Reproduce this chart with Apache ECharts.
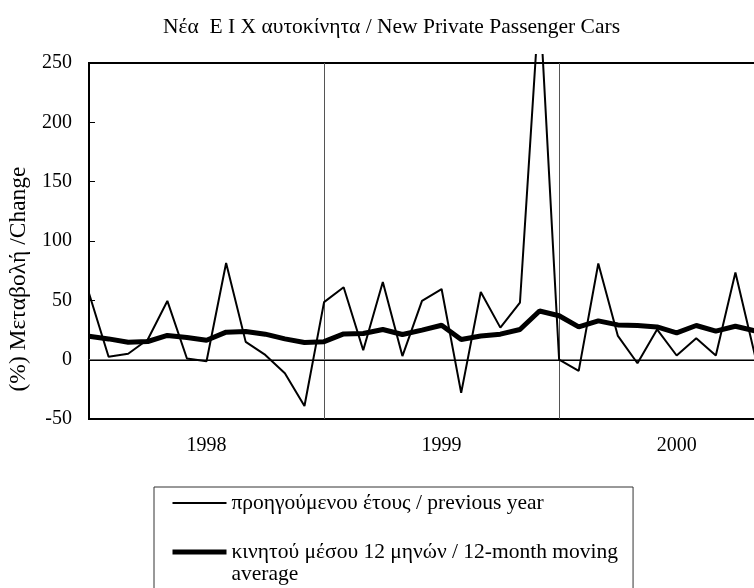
<!DOCTYPE html>
<html>
<head>
<meta charset="utf-8">
<script src="https://cdn.jsdelivr.net/npm/echarts@6/dist/echarts.min.js"></script>
<style>
  html, body { margin: 0; padding: 0; background: #fff; }
  #chart { width: 754px; height: 588px; }
</style>
</head>
<body>
<div id="chart"></div>
<script>
// monthly index, Jan 1998 = 0
const years = ['1998', '1999', '2000']
const prevYear = [56, 2.5, 5, 17, 49.5, 1, -1.3, 81.5, 15, 4, -11.5, -39,
  48.5, 61, 8, 65.5, 3, 49.5, 59.5, -28, 57, 27, 48, 305,
  0, -9.5, 81, 20, -3, 25.5, 3.5, 18, 3.5, 73.5, 3.5]
const movingAvg = [19.8, 17.5, 14.7, 15.3, 20.4, 18.7, 16.4, 23.2, 23.8, 21.5, 17.5, 14.5,
  15.2, 21.7, 22, 25.4, 21.2, 24.9, 29, 17, 20, 21.5, 25.4, 41,
  37, 27.6, 32.7, 29.3, 28.8, 27.6, 22.6, 28.8, 24, 28.2, 24.3]
const seriesNames = ['προηγούμενου έτους / previous year', 'κινητού μέσου 12 μηνών / 12-month moving\naverage']

const serif = '"Liberation Serif", "DejaVu Serif", serif'
const lastIdx = prevYear.length - 1

// plot frame in pixels
const plotTop = 63
const plotBottom = 169
const yMin = -50
const yMax = 250
// the spike overshoots the frame a little before it is cut off
const overshoot = 8
const plotH = 588 - plotTop - plotBottom
const yMaxClip = yMax + (yMax - yMin) * overshoot / plotH

const chart = echarts.init(document.getElementById('chart'), null, { renderer: 'canvas' })

const option = {
  animation: false,
  backgroundColor: '#fff',
  title: {
    text: 'Νέα  Ε Ι Χ αυτοκίνητα / New Private Passenger Cars',
    left: 163,
    top: 16,
    padding: 0,
    textStyle: { fontFamily: serif, fontSize: 21.5, fontWeight: 'normal', color: '#000' },
  },
  legend: {
    orient: 'vertical',
    left: 154,
    top: 487,
    height: 200,
    padding: [5, 15, 30, 16],
    itemGap: 5,
    itemWidth: 54,
    itemHeight: 14,
    itemStyle: { opacity: 0 },
    lineStyle: { width: 'inherit' },
    borderColor: '#333',
    borderWidth: 1,
    textStyle: { fontFamily: serif, fontSize: 21.5, color: '#000', lineHeight: 22 },
    // blank first line keeps the wrapped label's first line level with its icon
    formatter: (name) => (name.indexOf('\n') >= 0 ? '\n' + name : name),
    data: seriesNames,
  },
  grid: [
    { left: 89, right: -1, top: plotTop, bottom: plotBottom, outerBoundsMode: 'none', show: true, borderColor: '#000', borderWidth: 2 },
    { left: 89, right: -1, top: plotTop - overshoot, bottom: plotBottom, outerBoundsMode: 'none' },
  ],
  xAxis: [
    {
      type: 'value', gridIndex: 0, position: 'bottom', min: 0, max: lastIdx, interval: 12,
      axisLine: { lineStyle: { color: '#000', width: 2 } },
      axisTick: { show: false },
      axisLabel: { show: false },
      splitLine: { show: true, lineStyle: { color: '#555', width: 1 } },
    },
    {
      type: 'value', gridIndex: 0, position: 'bottom', min: 0, max: lastIdx, interval: 6,
      axisLine: { show: false },
      axisTick: { show: false },
      splitLine: { show: false },
      axisLabel: {
        margin: 17,
        fontFamily: serif, fontSize: 20, color: '#000',
        formatter: (v) => (v % 12 === 6 ? years[(v - 6) / 12] || '' : ''),
      },
    },
    { type: 'value', gridIndex: 1, min: 0, max: lastIdx, show: false },
  ],
  yAxis: [
    {
      type: 'value', gridIndex: 0, min: yMin, max: yMax, interval: 50,
      name: '(%) Μεταβολή /Change',
      nameLocation: 'middle',
      nameGap: 51,
      nameTextStyle: { fontFamily: serif, fontSize: 23.5, color: '#000', padding: [0, 76, 0, 0] },
      axisLine: { lineStyle: { color: '#000', width: 2 } },
      axisTick: { show: true, inside: true, length: 6, lineStyle: { color: '#000', width: 1 } },
      axisLabel: { margin: 17, fontFamily: serif, fontSize: 20, color: '#000' },
      splitLine: { show: false },
    },
    { type: 'value', gridIndex: 1, min: yMin, max: yMaxClip, show: false },
  ],
  series: [
    {
      name: seriesNames[0],
      type: 'line',
      xAxisIndex: 2,
      yAxisIndex: 1,
      data: prevYear.map((v, i) => [i, v]),
      symbol: 'none',
      lineStyle: { color: '#000', width: 2 },
      itemStyle: { color: '#000' },
      z: 3,
    },
    {
      name: seriesNames[1],
      type: 'line',
      xAxisIndex: 0,
      yAxisIndex: 0,
      data: movingAvg.map((v, i) => [i, v]),
      symbol: 'none',
      lineStyle: { color: '#000', width: 5 },
      itemStyle: { color: '#000' },
      z: 4,
      markLine: {
        silent: true,
        symbol: 'none',
        z: 1,
        label: { show: false },
        lineStyle: { color: '#777', width: 1, type: 'solid' },
        data: [{ yAxis: 0 }],
      },
    },
  ],
}

chart.setOption(option)
</script>
</body>
</html>
